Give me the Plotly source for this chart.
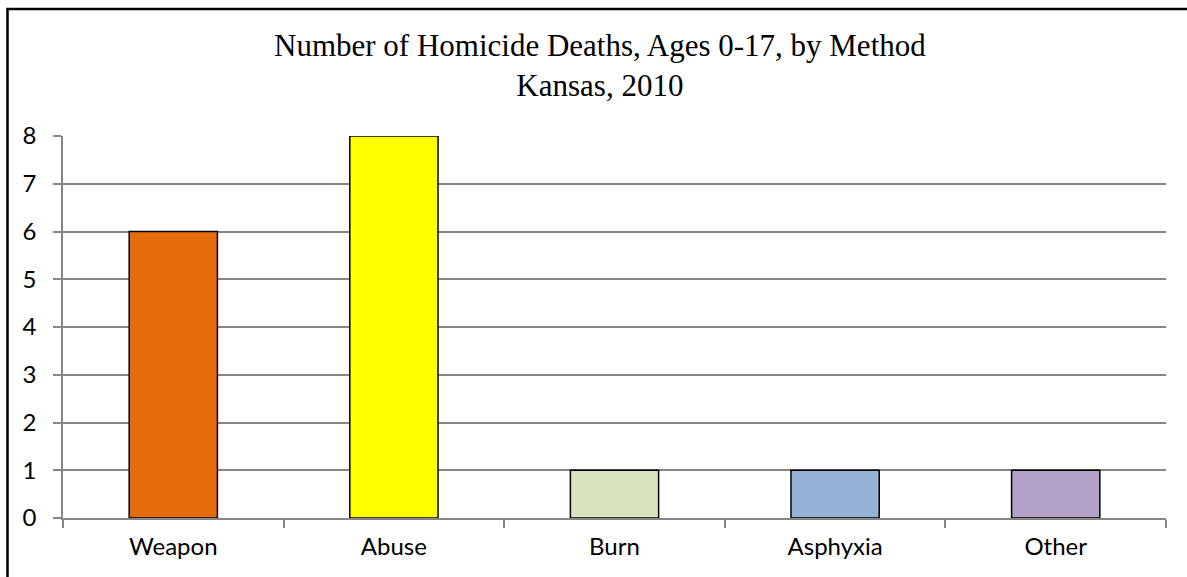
import plotly.graph_objects as go

categories = ["Weapon", "Abuse", "Burn", "Asphyxia", "Other"]
deaths = [6, 8, 1, 1, 1]
bar_colors = ["#E46C0A", "#FFFF00", "#D7E4BD", "#95B3D7", "#B3A2C7"]
y_ticks = [0, 1, 2, 3, 4, 5, 6, 7, 8]
title_text = "Number of Homicide Deaths, Ages 0-17, by Method<br>Kansas, 2010"

W, H = 1187, 577
ml, mr, mt, mb = 63, 21, 136, 59
pw, ph = W - ml - mr, H - mt - mb


def px_x(px):
    return (px - ml) / pw


def px_y(py):
    return (H - mb - py) / ph


fig = go.Figure(go.Bar(
    x=categories, y=deaths,
    marker=dict(color=bar_colors, line=dict(color="#000000", width=1.5)),
    width=0.4,
))

fig.add_shape(type="rect", xref="paper", yref="paper",
              x0=px_x(7.5), x1=px_x(1200),
              y0=px_y(590), y1=px_y(9),
              line=dict(color="#000000", width=2.5), fillcolor="rgba(0,0,0,0)",
              layer="above")

fig.add_annotation(text=title_text, xref="paper", yref="paper",
                   x=px_x(600), y=px_y(65), xanchor="center", yanchor="middle",
                   showarrow=False,
                   font=dict(family="Liberation Serif", size=31, color="#000000"))

fig.update_layout(
    width=W, height=H,
    margin=dict(l=ml, r=mr, t=mt, b=mb, pad=0),
    paper_bgcolor="#FFFFFF", plot_bgcolor="#FFFFFF",
    showlegend=False,
    font=dict(family="Lato", size=24, color="#000000"),
    xaxis=dict(type="category", tickson="boundaries", ticks="outside", ticklen=8,
               tickcolor="#868686", tickwidth=1.5, showline=True, linecolor="#868686",
               linewidth=1.5, showgrid=False, tickfont=dict(family="Lato", size=24),
               ticklabelstandoff=6, range=[-0.5, 4.5]),
    yaxis=dict(range=[0, 8], tickvals=y_ticks, ticks="outside", ticklen=8,
               tickcolor="#868686", tickwidth=1.5, showline=True, linecolor="#868686",
               linewidth=1.5, showgrid=True, gridcolor="#868686", gridwidth=1.5,
               zeroline=False, tickfont=dict(family="Lato", size=24),
               ticklabelstandoff=12),
)

fig.write_html("out.html", config={"displayModeBar": False},
               post_script="document.body.style.margin='0';")
